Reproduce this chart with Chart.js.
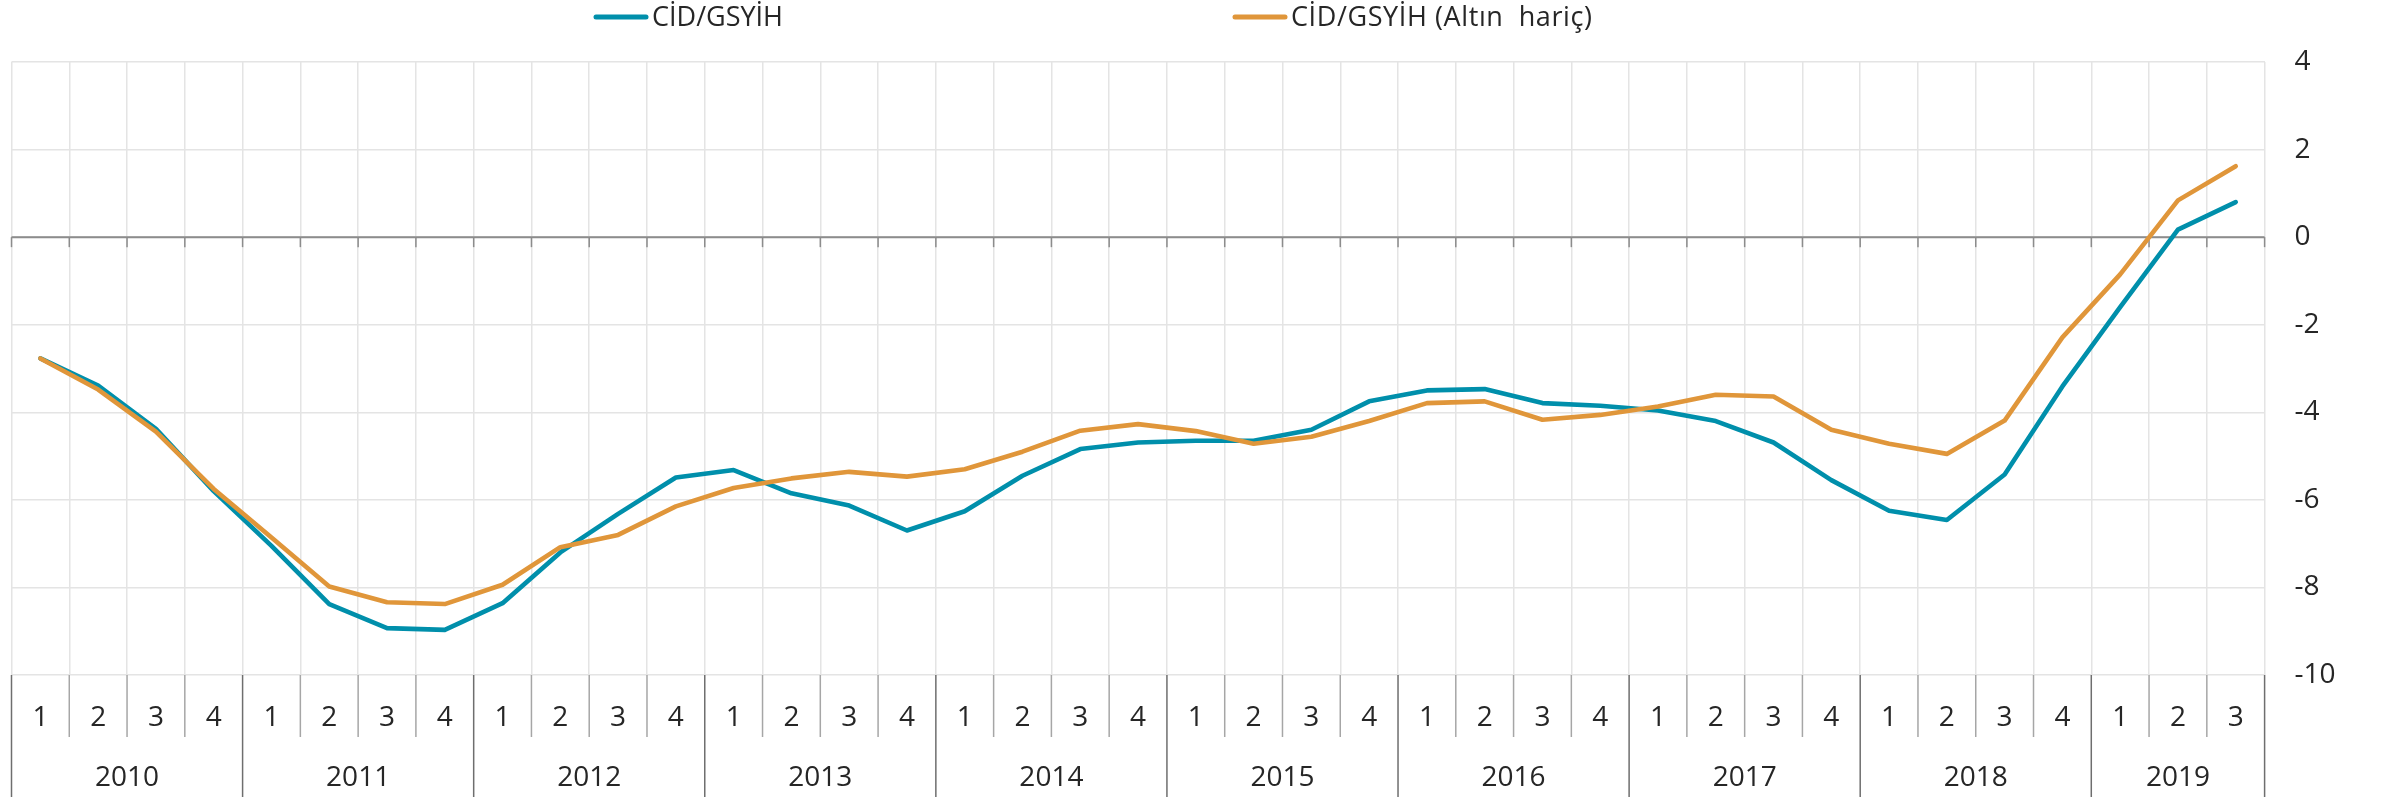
<!DOCTYPE html>
<html>
<head>
<meta charset="utf-8">
<script src="https://cdn.jsdelivr.net/npm/chart.js@4.4.1/dist/chart.umd.min.js"></script>
<style>
html,body{margin:0;padding:0;background:#fff;}
#wrap{width:2384px;height:797px;position:relative;}
</style>
</head>
<body>
<div id="wrap"><canvas id="c" width="2384" height="797"></canvas></div>
<script>
// ---- data ----
const quarterLabels = ['1','2','3','4','1','2','3','4','1','2','3','4','1','2','3','4','1','2','3','4',
  '1','2','3','4','1','2','3','4','1','2','3','4','1','2','3','4','1','2','3'];
const yearLabels = ['2010','2011','2012','2013','2014','2015','2016','2017','2018','2019'];
const yearQuarterCounts = [4,4,4,4,4,4,4,4,4,3];
const seriesNames = ['CİD/GSYİH', 'CİD/GSYİH (Altın  hariç)'];
const cidGsyih = [-2.77,-3.39,-4.38,-5.80,-7.05,-8.38,-8.93,-8.97,-8.36,-7.20,-6.32,-5.49,-5.32,-5.85,-6.13,-6.70,
  -6.26,-5.45,-4.84,-4.69,-4.65,-4.65,-4.40,-3.75,-3.50,-3.47,-3.79,-3.85,-3.96,-4.20,-4.69,-5.55,
  -6.25,-6.46,-5.42,-3.41,-1.60,0.17,0.80];
const cidGsyihExGold = [-2.77,-3.48,-4.44,-5.75,-6.86,-7.98,-8.34,-8.38,-7.94,-7.08,-6.80,-6.15,-5.73,-5.51,-5.36,-5.47,
  -5.30,-4.90,-4.42,-4.27,-4.43,-4.72,-4.56,-4.20,-3.79,-3.75,-4.17,-4.06,-3.87,-3.60,-3.64,-4.40,
  -4.72,-4.95,-4.19,-2.29,-0.85,0.84,1.62];
const yTicks = [-10,-8,-6,-4,-2,0,2,4];

const BLUE = '#008FAB';
const ORANGE = '#E0963A';
const FONT = "'Open Sans', 'DejaVu Sans', sans-serif";

// year centers (in category index units) and boundaries
const yearCenters = [];
const yearBounds = [0];
{
  let s = 0;
  yearQuarterCounts.forEach(n => { yearCenters.push(s + (n - 1) / 2); s += n; yearBounds.push(s); });
}

const legendPlugin = {
  id: 'customLegend',
  afterDraw(chart) {
    const ctx = chart.ctx;
    const items = [
      {x: 594, color: BLUE, text: seriesNames[0], spacing: '0px'},
      {x: 1233, color: ORANGE, text: seriesNames[1], spacing: '0.6px'}
    ];
    ctx.save();
    ctx.font = "27px " + FONT;
    ctx.textBaseline = 'middle';
    ctx.fillStyle = '#262626';
    items.forEach(it => {
      ctx.beginPath();
      ctx.strokeStyle = it.color;
      ctx.lineWidth = 5;
      ctx.lineCap = 'round';
      ctx.moveTo(it.x + 2, 17);
      ctx.lineTo(it.x + 52, 17);
      ctx.stroke();
      if ('letterSpacing' in ctx) ctx.letterSpacing = it.spacing;
      ctx.fillText(it.text, it.x + 58, 18);
    });
    ctx.restore();
  }
};

const axisDecor = {
  id: 'axisDecor',
  beforeDatasetsDraw(chart) {
    const ctx = chart.ctx;
    const a = chart.chartArea;
    const y0 = chart.scales.y.getPixelForValue(0);
    const n = quarterLabels.length;
    const step = (a.right - a.left) / n;
    ctx.save();
    ctx.strokeStyle = '#8c8c8c';
    ctx.lineWidth = 2;
    ctx.beginPath();
    ctx.moveTo(a.left, y0); ctx.lineTo(a.right, y0);
    ctx.stroke();
    ctx.lineWidth = 1.5;
    for (let i = 0; i <= n; i++) {
      const x = a.left + i * step;
      ctx.beginPath();
      ctx.moveTo(x, y0); ctx.lineTo(x, y0 + 10);
      ctx.stroke();
    }
    ctx.restore();
  },
  afterDraw(chart) {
    const ctx = chart.ctx;
    const a = chart.chartArea;
    const n = quarterLabels.length;
    const step = (a.right - a.left) / n;
    const qBottom = chart.scales.x.bottom;
    const yBottom = chart.scales.x2.bottom;
    ctx.save();
    ctx.lineWidth = 1.5;
    for (let i = 0; i <= n; i++) {
      const x = a.left + i * step;
      const isYear = yearBounds.includes(i);
      ctx.beginPath();
      ctx.strokeStyle = isYear ? '#6e6e6e' : '#a6a6a6';
      ctx.moveTo(x, a.bottom);
      ctx.lineTo(x, isYear ? yBottom : qBottom);
      ctx.stroke();
    }
    ctx.restore();
  }
};

function build() {
  new Chart(document.getElementById('c'), {
    type: 'line',
    data: {
      labels: quarterLabels,
      datasets: [
        {label: seriesNames[0], data: cidGsyih, borderColor: BLUE, backgroundColor: BLUE,
         borderWidth: 4.6, pointRadius: 0, tension: 0, borderJoinStyle: 'round', borderCapStyle: 'round', order: 1, xAxisID: 'x', yAxisID: 'y'},
        {label: seriesNames[1], data: cidGsyihExGold, borderColor: ORANGE, backgroundColor: ORANGE,
         borderWidth: 4.6, pointRadius: 0, tension: 0, borderJoinStyle: 'round', borderCapStyle: 'round', order: 0, xAxisID: 'x', yAxisID: 'y'}
      ]
    },
    options: {
      responsive: false,
      animation: false,
      events: [],
      layout: {padding: {top: 62, left: 11.5, right: 0, bottom: 0}},
      plugins: {legend: {display: false}, tooltip: {enabled: false}},
      scales: {
        x: {
          type: 'category',
          position: 'bottom',
          weight: 0,
          offset: true,
          grid: {offset: true, color: '#e4e4e4', lineWidth: 1.5, drawTicks: false},
          border: {display: false},
          ticks: {autoSkip: false, maxRotation: 0, padding: 26, color: '#262626', font: {family: FONT, size: 28}},
          afterFit(s) { s.height = 62; }
        },
        x2: {
          type: 'linear',
          position: 'bottom',
          weight: 1,
          min: -0.5,
          max: quarterLabels.length - 0.5,
          grid: {display: false, drawTicks: false},
          border: {display: false},
          afterBuildTicks(s) { s.ticks = yearCenters.map(v => ({value: v})); },
          ticks: {autoSkip: false, maxRotation: 0, padding: 24, color: '#262626', font: {family: FONT, size: 28},
            callback(v) { const k = yearCenters.indexOf(v); return k >= 0 ? yearLabels[k] : ''; }},
          afterFit(s) { s.height = 60; }
        },
        y: {
          position: 'right',
          min: -10, max: 4,
          afterBuildTicks(s) { s.ticks = yTicks.map(v => ({value: v})); },
          grid: {color: '#e4e4e4', lineWidth: 1.5, drawTicks: false},
          border: {display: false},
          ticks: {padding: 30, color: '#262626', font: {family: FONT, size: 28}},
          afterFit(s) { s.width = 119.4; }
        }
      }
    },
    plugins: [axisDecor, legendPlugin]
  });
}

Promise.all([
  document.fonts.load("27px 'Open Sans'"),
  document.fonts.load("28px 'Open Sans'")
]).then(build, build);
</script>
</body>
</html>
